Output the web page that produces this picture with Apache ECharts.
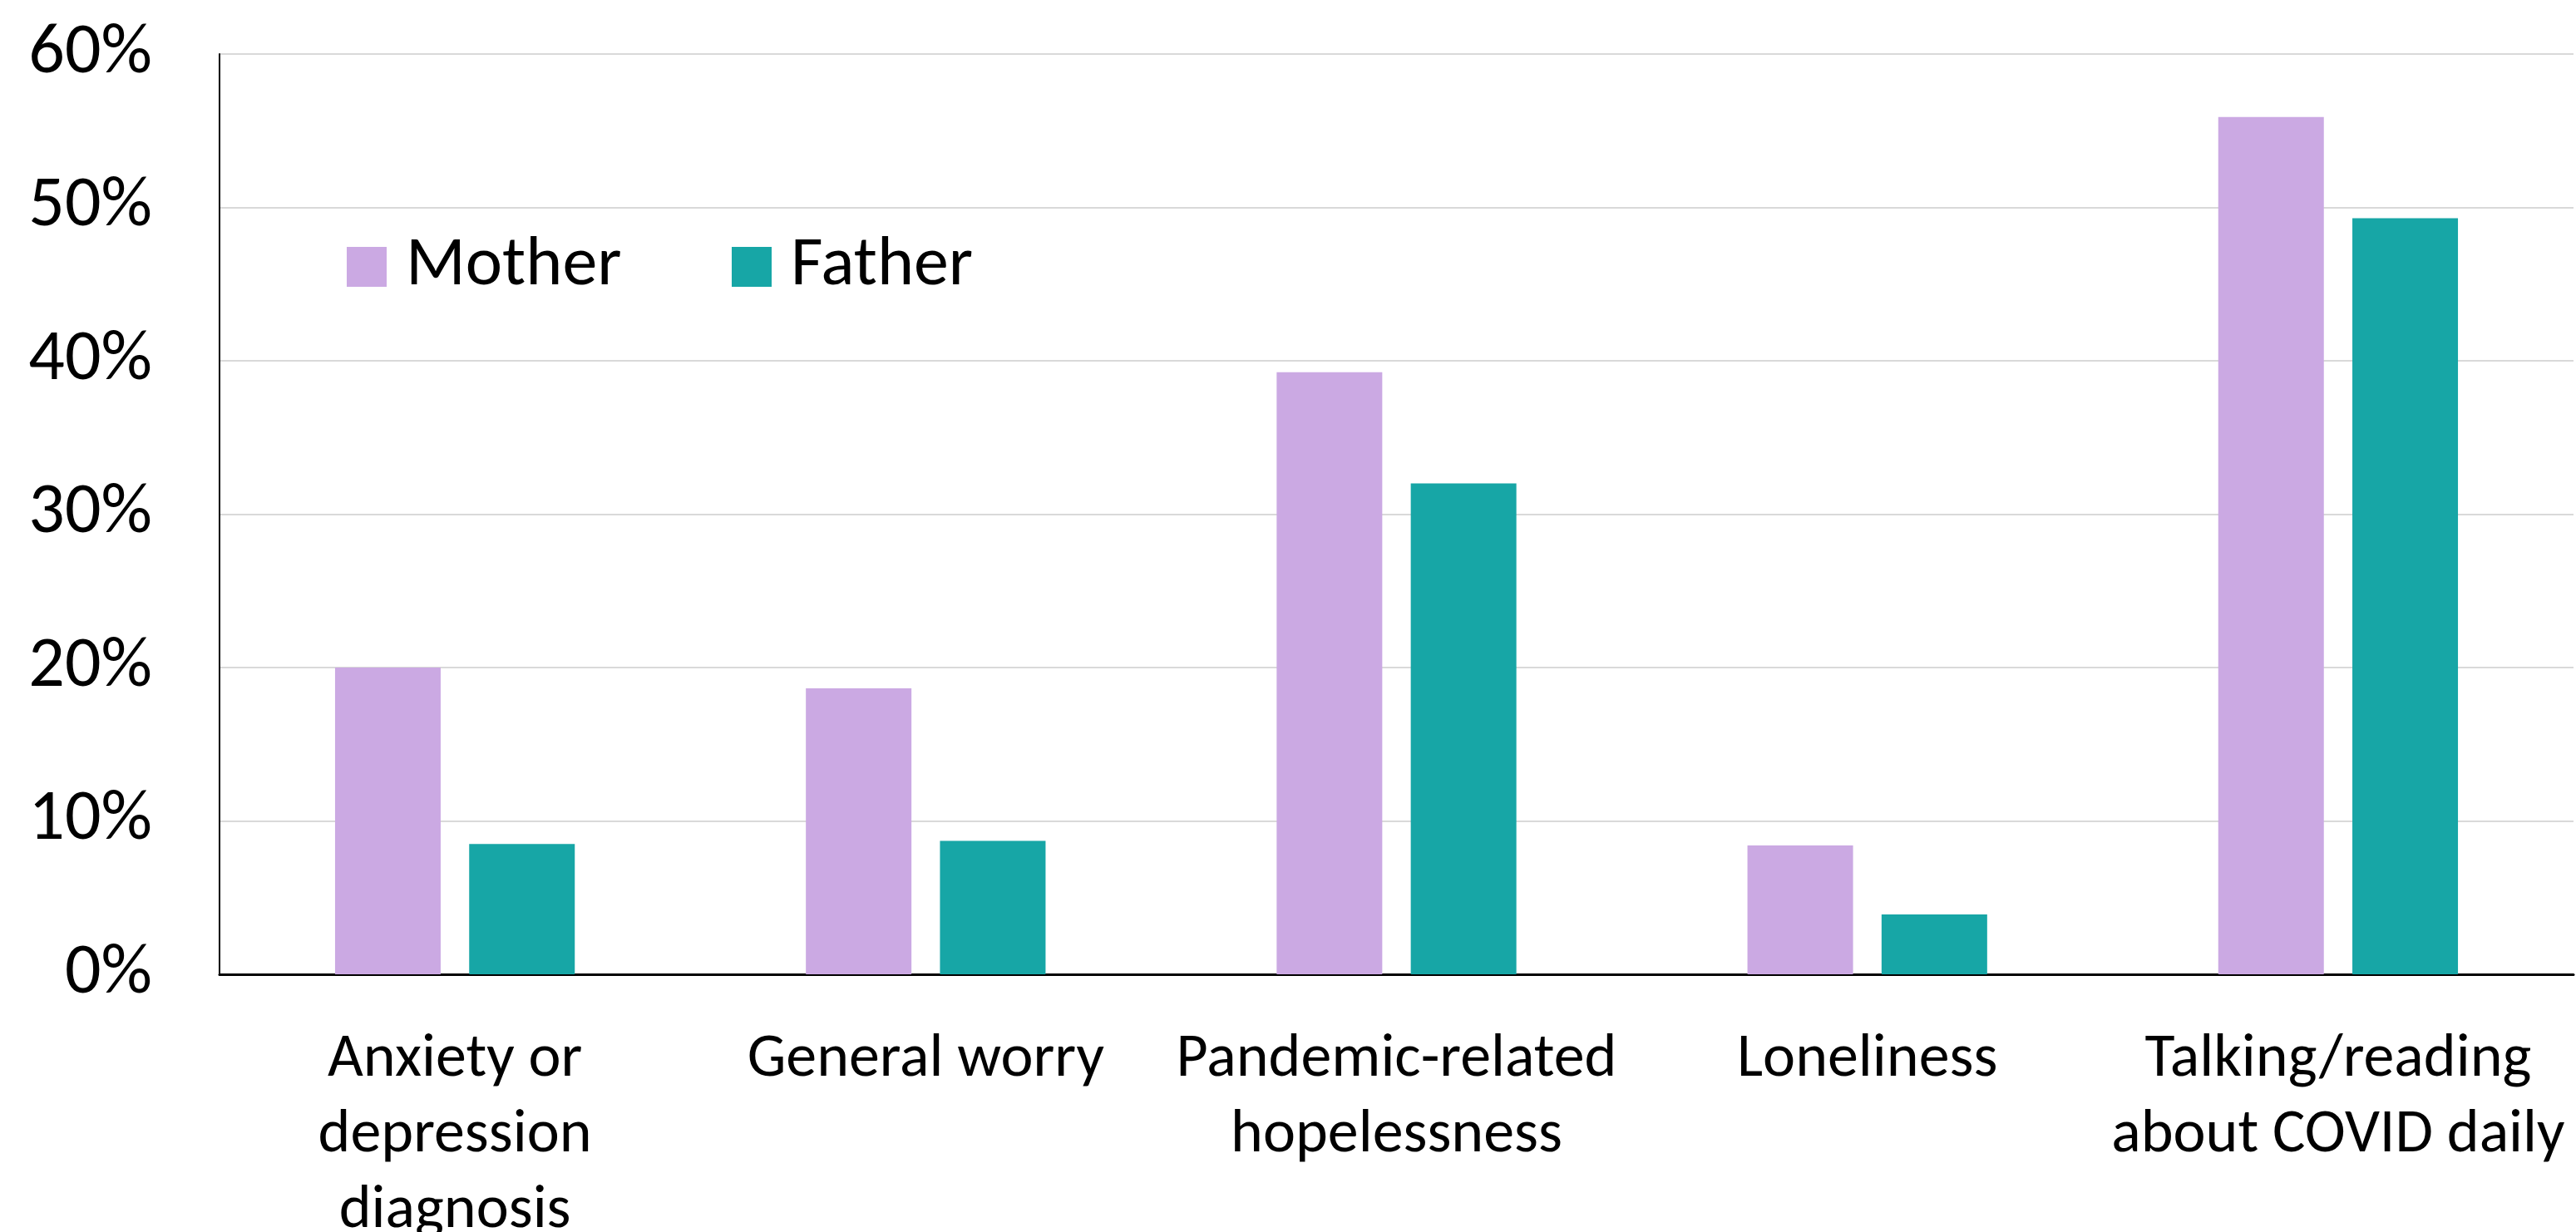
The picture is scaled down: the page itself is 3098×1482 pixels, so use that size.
<!DOCTYPE html>
<html>
<head>
<meta charset="utf-8">
<title>Parent mental health indicators</title>
<script src="https://cdn.jsdelivr.net/npm/echarts@6/dist/echarts.min.js"></script>
<style>
  html, body { margin: 0; padding: 0; background: #ffffff; }
  #chart { width: 3098px; height: 1482px; }
</style>
</head>
<body>
<div id="chart"></div>
<script>
// Categories along the x axis (line breaks as displayed)
const categories = [
  'Anxiety or\ndepression\ndiagnosis',
  'General worry',
  'Pandemic-related\nhopelessness',
  'Loneliness',
  'Talking/reading\nabout COVID daily'
];

// Share of respondents (%) per category
const motherValues = [20.0, 18.65, 39.25, 8.4, 55.9];
const fatherValues = [8.5, 8.7, 32.0, 3.9, 49.3];

// Value axis range
const yMin = 0;
const yMax = 60;
const yStep = 10;

const seriesNames = ['Mother', 'Father'];
const colors = ['#CBA9E3', '#17A6A6'];

const FONT = "Carlito, Calibri, Lato, 'Noto Sans', sans-serif";

const chart = echarts.init(document.getElementById('chart'), null, { renderer: 'canvas' });

const legendCommon = {
  orient: 'horizontal',
  top: 274,
  itemWidth: 48,
  itemHeight: 48,
  icon: 'rect',
  selectedMode: false,
  textStyle: {
    fontFamily: FONT,
    fontSize: 84,
    color: '#000000',
    padding: [0, 0, 0, 18]
  }
};

chart.setOption({
  backgroundColor: '#ffffff',
  animation: false,
  color: colors,
  textStyle: { fontFamily: FONT },
  grid: {
    left: 264,
    right: 3,
    top: 65,
    bottom: 310,
    containLabel: false,
    outerBoundsMode: 'none'
  },
  legend: [
    Object.assign({}, legendCommon, { left: 412, data: [seriesNames[0]] }),
    Object.assign({}, legendCommon, { left: 875, data: [seriesNames[1]] })
  ],
  xAxis: {
    type: 'category',
    data: categories,
    axisLine: { show: true, lineStyle: { color: '#000000', width: 3 } },
    axisTick: { show: false },
    axisLabel: {
      interval: 0,
      color: '#000000',
      fontFamily: FONT,
      fontSize: 74,
      lineHeight: 91,
      margin: 58,
      align: 'center'
    },
    splitLine: { show: false }
  },
  yAxis: {
    type: 'value',
    min: yMin,
    max: yMax,
    interval: yStep,
    axisLine: { show: true, lineStyle: { color: '#000000', width: 2 } },
    axisTick: { show: false },
    axisLabel: {
      color: '#000000',
      fontFamily: FONT,
      fontSize: 86,
      margin: 81,
      formatter: '{value}%'
    },
    splitLine: { show: true, lineStyle: { color: '#D9D9D9', width: 2 } }
  },
  series: [
    {
      name: seriesNames[0],
      type: 'bar',
      data: motherValues,
      barWidth: 127,
      barGap: '27%',
      itemStyle: { color: colors[0] }
    },
    {
      name: seriesNames[1],
      type: 'bar',
      data: fatherValues,
      barWidth: 127,
      barGap: '27%',
      itemStyle: { color: colors[1] }
    }
  ]
});
</script>
</body>
</html>
